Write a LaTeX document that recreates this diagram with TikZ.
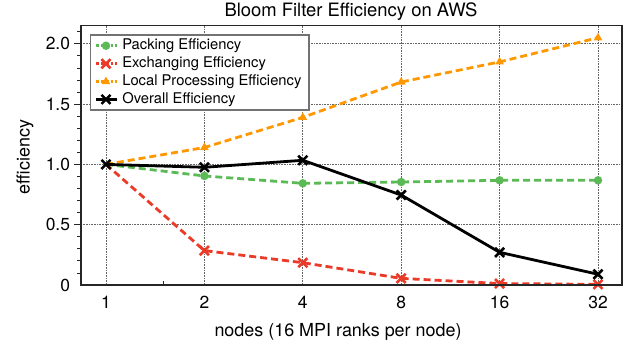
\documentclass[tikz,border=0pt]{standalone}
\usepackage{fontspec}
\setmainfont{TeX Gyre Heros}
\usetikzlibrary{shapes.geometric,shapes.misc}
\definecolor{packgreen}{RGB}{92,186,86}
\definecolor{xchgred}{RGB}{234,58,40}
\definecolor{localorange}{RGB}{255,152,0}
\begin{document}
\begin{tikzpicture}[x=98.4bp,y=120.6bp]
\tikzset{
gridline/.style={densely dotted,black!60,line width=0.6bp},
frame/.style={black!85,line width=1.1bp},
series/.style={line width=2.8bp,dash pattern=on 7bp off 4bp},
pdot/.style={circle,fill=packgreen,inner sep=0pt,minimum size=8.5bp},
xmark/.style={cross out,draw=xchgred,line width=2.6bp,inner sep=0pt,minimum size=6.5bp},
tmark/.style={regular polygon,regular polygon sides=3,fill=localorange,inner sep=0pt,minimum size=10bp},
omark/.style={cross out,draw=black,line width=2.6bp,inner sep=0pt,minimum size=6.5bp},
ticklab/.style={font={\fontsize{17.5pt}{20}\selectfont}},
leglab/.style={anchor=west,font={\fontsize{14.8pt}{17}\selectfont}}
}
\useasboundingbox (-1.0772,-0.5224) rectangle (5.3354,2.3632);

% grid
\foreach \i in {0,...,5} \draw[gridline] (\i,0) -- (\i,2.148);
\foreach \v in {0.5,1.0,1.5,2.0} \draw[gridline] (-0.254,\v) -- (5.244,\v);

% ticks
\foreach \v in {0.1,0.2,...,2.15} \draw[frame,line width=0.8bp] (-0.254,\v) -- ++(-4bp,0);
\foreach \v in {0.5,1.0,1.5,2.0} \draw[frame,line width=0.8bp] (-0.254,\v) -- ++(-7bp,0);
\draw[frame,line width=0.8bp] (0.585,0) -- ++(0,4bp);

\node[ticklab,anchor=east] (y0) at (-0.33,0) {0};
\node[ticklab,anchor=east] (y05) at (-0.33,0.5) {0.5};
\node[ticklab,anchor=east] (y10) at (-0.33,1.0) {1.0};
\node[ticklab,anchor=east] (y15) at (-0.33,1.5) {1.5};
\node[ticklab,anchor=east] (y20) at (-0.33,2.0) {2.0};
\node[ticklab] (x1) at (0,-0.141) {1};
\node[ticklab] (x2) at (1,-0.141) {2};
\node[ticklab] (x4) at (2,-0.141) {4};
\node[ticklab] (x8) at (3,-0.141) {8};
\node[ticklab] (x16) at (4,-0.141) {16};
\node[ticklab] (x32) at (5,-0.141) {32};

\node[font={\fontsize{18pt}{20}\selectfont}] (xlabel) at (2.358,-0.39) {nodes (16 MPI ranks per node)};
\node[font={\fontsize{18pt}{20}\selectfont},rotate=90] (ylabel) at (-0.823,1.061) {efficiency};
\node[font={\fontsize{18.5pt}{20}\selectfont}] (title) at (2.49,2.264) {Bloom Filter Efficiency on AWS};

% data points
\coordinate (P1) at (0,1.0);   \coordinate (P2) at (1,0.904); \coordinate (P4) at (2,0.843);
\coordinate (P8) at (3,0.854); \coordinate (P16) at (4,0.868); \coordinate (P32) at (5,0.868);
\coordinate (E1) at (0,1.0);   \coordinate (E2) at (1,0.285); \coordinate (E4) at (2,0.185);
\coordinate (E8) at (3,0.055); \coordinate (E16) at (4,0.012); \coordinate (E32) at (5,0.005);
\coordinate (L1) at (0,1.0);   \coordinate (L2) at (1,1.14);  \coordinate (L4) at (2,1.39);
\coordinate (L8) at (3,1.683); \coordinate (L16) at (4,1.85); \coordinate (L32) at (5,2.05);
\coordinate (O1) at (0,1.0);   \coordinate (O2) at (1,0.976); \coordinate (O4) at (2,1.034);
\coordinate (O8) at (3,0.746); \coordinate (O16) at (4,0.271); \coordinate (O32) at (5,0.089);

\draw[series,packgreen] (P1) -- (P2) -- (P4) -- (P8) -- (P16) -- (P32);
\draw[series,xchgred] (E1) -- (E2) -- (E4) -- (E8) -- (E16) -- (E32);
\draw[series,localorange] (L1) -- (L2) -- (L4) -- (L8) -- (L16) -- (L32);
\draw[line width=2.8bp,black,line join=round] (O1) -- (O2) -- (O4) -- (O8) -- (O16) -- (O32);

\node[pdot] at (P2) {}; \node[pdot] at (P4) {}; \node[pdot] at (P8) {};
\node[pdot] at (P16) {}; \node[pdot] at (P32) {};
\node[xmark] at (E2) {}; \node[xmark] at (E4) {}; \node[xmark] at (E8) {};
\node[xmark] at (E16) {}; \node[xmark] at (E32) {};
\node[tmark] at (L2) {}; \node[tmark] at (L4) {}; \node[tmark] at (L8) {};
\node[tmark] at (L16) {}; \node[tmark] at (L32) {};
\node[omark] at (O1) {}; \node[omark] at (O2) {}; \node[omark] at (O4) {};
\node[omark] at (O8) {}; \node[omark] at (O16) {}; \node[omark] at (O32) {};

% legend
\draw[black!55,line width=1.4bp,fill=white] (-0.155,1.451) rectangle (2.063,2.073);
\draw[packgreen,line width=2.8bp,dotted] (-0.1,1.984) -- (0.11,1.984);
\node[pdot] (kP) at (0,1.984) {};
\node[leglab] (tP) at (0.13,1.984) {Packing Efficiency};
\draw[xchgred,line width=2.8bp,dotted] (-0.1,1.835) -- (0.11,1.835);
\node[xmark] (kE) at (0,1.835) {};
\node[leglab] (tE) at (0.13,1.835) {Exchanging Efficiency};
\draw[localorange,line width=2.8bp,dotted] (-0.1,1.686) -- (0.11,1.686);
\node[tmark] (kL) at (0,1.686) {};
\node[leglab] (tL) at (0.13,1.686) {Local Processing Efficiency};
\draw[black,line width=2.8bp] (-0.1,1.539) -- (0.11,1.539);
\node[omark] (kO) at (0,1.539) {};
\node[leglab] (tO) at (0.13,1.539) {Overall Efficiency};

% frame
\draw[frame] (-0.254,0) rectangle (5.244,2.148);
\end{tikzpicture}
\end{document}
